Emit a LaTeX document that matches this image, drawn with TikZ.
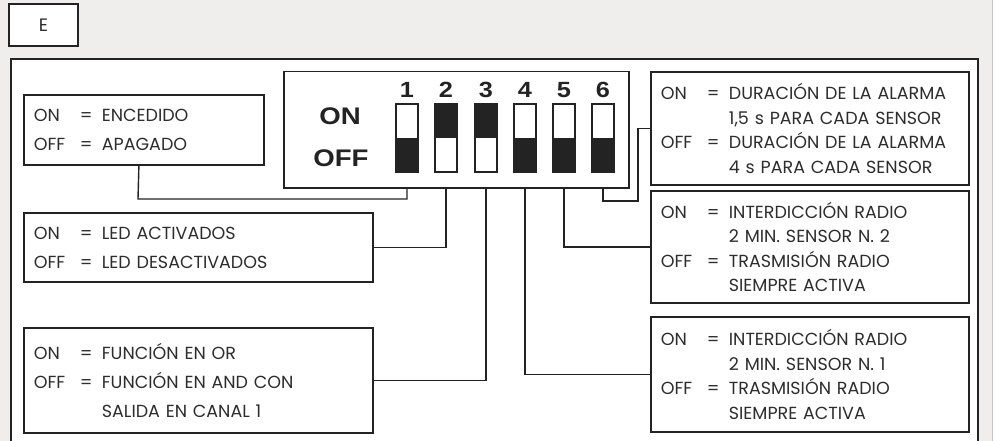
\documentclass[tikz,border=0pt]{standalone}
\usepackage{fontspec}
\setmainfont{Poppins}
\newfontfamily\dipfont{Liberation Sans}[FakeStretch=1.15]
\usetikzlibrary{positioning}
\definecolor{dipNegro}{RGB}{35,35,35}
\definecolor{dipTexto}{RGB}{45,45,45}
\definecolor{dipFondo}{RGB}{239,238,236}

% una linea "ON = ..." y su continuacion
\newcommand{\opc}[2]{\mbox{\makebox[46pt][l]{#1}\makebox[22pt][l]{=}#2}}
\newcommand{\sigue}[1]{\mbox{\hspace*{68pt}#1}}

\begin{document}
\begin{tikzpicture}[x=1pt,y=-1pt,
    caja/.style={draw=dipNegro,line width=1.8pt,fill=white,anchor=north west,
      inner xsep=10pt,inner ysep=0pt,align=left,text=dipTexto},
    izq/.style={caja,minimum width=349pt,text width=329pt,
      font=\fontsize{17.5}{29}\selectfont},
    der/.style={caja,minimum width=318pt,text width=298pt,
      font=\fontsize{17.5}{24.5}\selectfont},
    cable/.style={dipNegro,line width=1.4pt},
    tecla/.style={draw=dipNegro,line width=1.3pt,fill=white,anchor=north,
      minimum width=22pt,minimum height=67pt,inner sep=0pt},
    num/.style={font=\dipfont\bfseries\fontsize{22}{22}\selectfont,
      text=dipNegro,inner sep=0pt}]
  \useasboundingbox (0,0) rectangle (995,441);
  \fill[dipFondo] (0,0) rectangle (992,441);
  \draw[gray!45,line width=1pt] (992,0) -- (992,441);

  % Etiqueta y marco
  \node[draw=dipNegro,line width=1.5pt,fill=white,minimum width=69pt,
    minimum height=42pt,inner sep=0pt,font=\fontsize{18}{18}\selectfont,
    text=dipTexto] (letra) at (43.5,25) {E};
  \draw[dipNegro,line width=1.8pt,fill=white] (11,59) rectangle (978,452);

  % Dip-switch
  \node[draw=dipNegro,line width=1.5pt,fill=white,anchor=north west,
    minimum width=345pt,minimum height=116pt] (dip) at (283,71) {};
  \node[num,font=\dipfont\bfseries\fontsize{24}{24}\selectfont] (on) at (340,116) {ON};
  \node[num,font=\dipfont\bfseries\fontsize{24}{24}\selectfont] (off) at (341,158) {OFF};
  \foreach \i/\x/\esq in {1/407/south west,2/446/north west,3/486/north west,
                          4/525/south west,5/564/south west,6/603/south west}{
    \node[num] (n\i) at (\x,90) {\i};
    \node[tecla] (s\i) at (\x,104) {};
    \fill[dipNegro] (s\i.\esq) rectangle (s\i.east);
    \draw[dipNegro,line width=1.3pt] (s\i.north west) rectangle (s\i.south east);
  }

  % Cajas de la izquierda
  \node[izq,minimum width=240pt,text width=220pt,minimum height=70pt]
    (encendido) at (23,94) {\opc{ON}{ENCEDIDO}\\\opc{OFF}{APAGADO}};
  \node[izq,minimum height=69pt] (led) at (23,212)
    {\opc{ON}{LED ACTIVADOS}\\\opc{OFF}{LED DESACTIVADOS}};
  \node[izq,minimum height=105pt] (funcion) at (23,327)
    {\opc{ON}{FUNCIÓN EN OR}\\\opc{OFF}{FUNCIÓN EN AND CON}\\\sigue{SALIDA EN CANAL 1}};

  % Cajas de la derecha
  \node[der,minimum height=113pt] (alarma) at (650,71)
    {\opc{ON}{DURACIÓN DE LA ALARMA}\\\sigue{1,5 s PARA CADA SENSOR}\\
     \opc{OFF}{DURACIÓN DE LA ALARMA}\\\sigue{4 s PARA CADA SENSOR}};
  \node[der,minimum height=112pt] (radiodos) at (650,190)
    {\opc{ON}{INTERDICCIÓN RADIO}\\\sigue{2 MIN. SENSOR N. 2}\\
     \opc{OFF}{TRASMISIÓN RADIO}\\\sigue{SIEMPRE ACTIVA}};
  \node[der,minimum height=115pt] (radiouno) at (650,316)
    {\opc{ON}{INTERDICCIÓN RADIO}\\\sigue{2 MIN. SENSOR N. 1}\\
     \opc{OFF}{TRASMISIÓN RADIO}\\\sigue{SIEMPRE ACTIVA}};

  % Conexiones
  \draw[cable] (s1 |- dip.south) |- (138,199) -- ([xshift=-5pt]encendido.south);
  \draw[cable] (s2 |- dip.south) |- (led.east);
  \draw[cable] (s3 |- dip.south) |- (funcion.east);
  \draw[cable] (s4 |- dip.south) |- (radiouno.west);
  \draw[cable] (s5 |- dip.south) |- (radiodos.west);
  \draw[cable] (s6 |- dip.south) |- (638,201) |- (alarma.west);
\end{tikzpicture}
\end{document}
